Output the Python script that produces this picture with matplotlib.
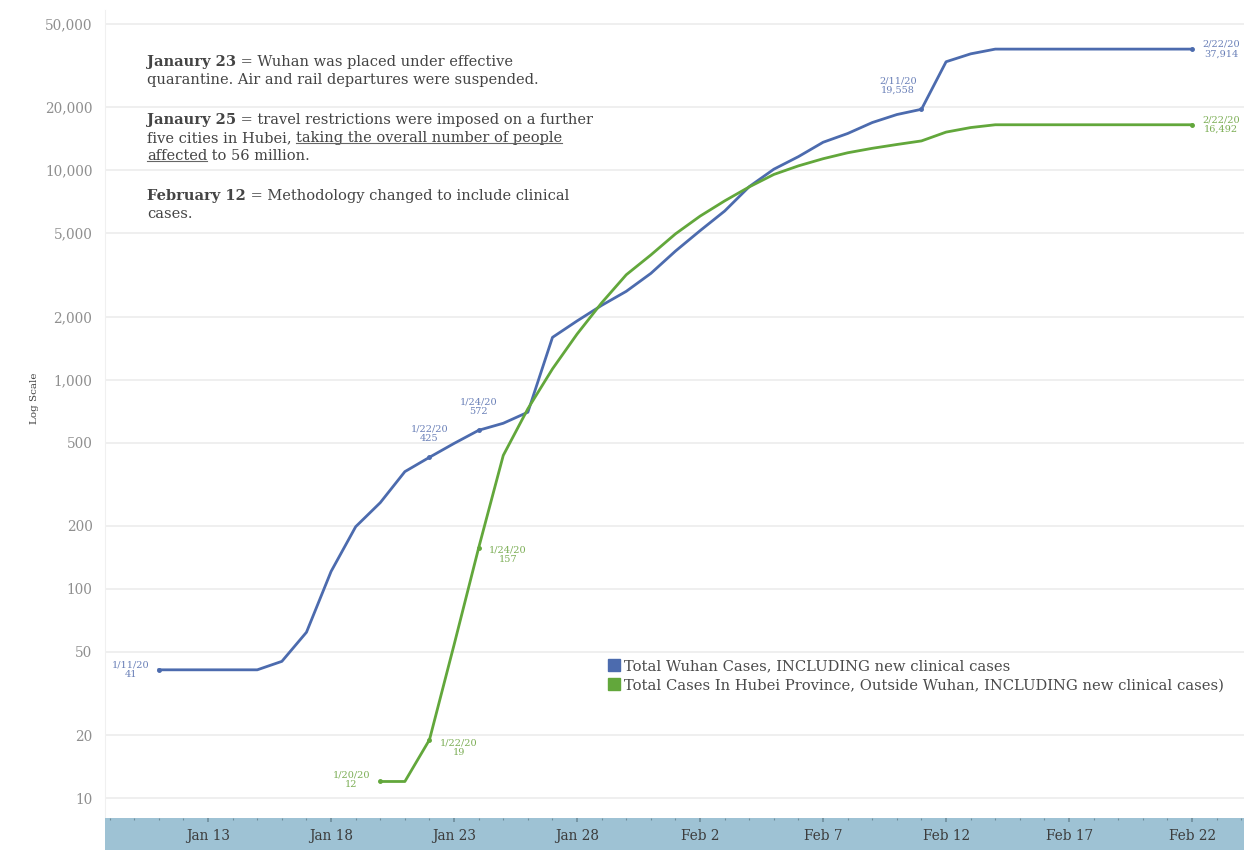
import pandas as pd
import matplotlib
matplotlib.use('Agg')
import matplotlib.pyplot as plt
from matplotlib.lines import Line2D

# Cumulative cases
wuhan_dates = pd.date_range('2020-01-11', '2020-02-22')
wuhan_cases = [41, 41, 41, 41, 41, 45, 62, 121, 198, 258, 363, 425, 495, 572,
               618, 698, 1590, 1905, 2261, 2639, 3215,
               4109, 5142, 6384, 8351, 10117, 11618, 13603, 14982, 16902,
               18454, 19558, 32994, 35991, 37914, 37914, 37914, 37914, 37914,
               37914, 37914, 37914, 37914]

hubei_dates = pd.date_range('2020-01-20', '2020-02-22')
hubei_cases = [12, 12, 19, 54, 157, 434, 725, 1124, 1649, 2325, 3167, 3938,
               4965, 6035, 7138, 8327, 9548, 10494, 11350, 12118, 12729,
               13274, 13808, 15212, 15995, 16492, 16492, 16492, 16492, 16492,
               16492, 16492, 16492, 16492]

# labelled points: (date, offset in points)
wuhan_marks = [('2020-01-11', (-20, 0)), ('2020-01-22', (0, 17)),
               ('2020-01-24', (0, 17)), ('2020-02-11', (-17, 17)),
               ('2020-02-22', (21, 0))]
hubei_marks = [('2020-01-20', (-21, 1)), ('2020-01-22', (21, -6)),
               ('2020-01-24', (21, -5)), ('2020-02-22', (21, 0))]

tick_dates = pd.date_range('2020-01-13', '2020-02-22', freq='5D')
tick_labels = ['Jan 13', 'Jan 18', 'Jan 23', 'Jan 28', 'Feb 2', 'Feb 7',
               'Feb 12', 'Feb 17', 'Feb 22']
y_ticks = [10, 20, 50, 100, 200, 500, 1000, 2000, 5000, 10000, 20000, 50000]

notes = [
    [('Janaury 23', 'bold', False), (' = Wuhan was placed under effective', 'normal', False)],
    [('quarantine. Air and rail departures were suspended.', 'normal', False)],
    None,
    [('Janaury 25', 'bold', False), (' = travel restrictions were imposed on a further', 'normal', False)],
    [('five cities in Hubei, ', 'normal', False), ('taking the overall number of people', 'normal', True)],
    [('affected', 'normal', True), (' to 56 million.', 'normal', False)],
    None,
    [('February 12', 'bold', False), (' = Methodology changed to include clinical', 'normal', False)],
    [('cases.', 'normal', False)],
]

blue = '#4c6bae'
green = '#62a73b'
blue_txt = '#6a80b8'
green_txt = '#7cae55'
serif = 'DejaVu Serif'
note_size = 10.5

W, H = 1244, 850
fig = plt.figure(figsize=(W / 100, H / 100), dpi=100)
ax = fig.add_axes([105 / W, 32 / H, 1 - 105 / W, 808 / H])
band = fig.add_axes([105 / W, 0, 1 - 105 / W, 32 / H], sharex=ax)

ax.plot(wuhan_dates, wuhan_cases, color=blue, lw=2.0, solid_joinstyle='round')
ax.plot(hubei_dates, hubei_cases, color=green, lw=2.0, solid_joinstyle='round')

wuhan_s = pd.Series(wuhan_cases, index=wuhan_dates)
hubei_s = pd.Series(hubei_cases, index=hubei_dates)
for series, marks, col, tcol in [(wuhan_s, wuhan_marks, blue, blue_txt),
                                 (hubei_s, hubei_marks, green, green_txt)]:
    for d, off in marks:
        d = pd.Timestamp(d)
        v = series[d]
        ax.plot([d], [v], 'o', color=col, ms=2.5)
        ax.annotate(f'{d.month}/{d.day}/20\n{v:,}', xy=(d, v), xytext=off,
                    textcoords='offset points', ha='center', va='center',
                    fontsize=7, color=tcol, family=serif, linespacing=1.1)

ax.set_yscale('log')
ax.set_ylim(8.03, 58300)
x0 = pd.Timestamp('2020-01-13')
ax.set_xlim(x0 - pd.Timedelta(days=4.19), x0 + pd.Timedelta(days=42.11))
ax.set_yticks(y_ticks)
ax.set_yticklabels([f'{v:,}' for v in y_ticks])
ax.minorticks_off()
ax.tick_params(axis='y', length=0, pad=9, labelsize=9.8, labelcolor='#8f8f8f')
for lab in ax.get_yticklabels():
    lab.set_family(serif)
ax.tick_params(axis='x', bottom=False, labelbottom=False)
ax.yaxis.grid(True, color='#ececec', lw=1.2)
ax.set_axisbelow(True)
for s in ax.spines.values():
    s.set_visible(False)
ax.spines['left'].set_visible(True)
ax.spines['left'].set_color('#f0f0f0')
ax.set_ylabel('Log Scale', family=serif, fontsize=7.5, color='#444444')
ax.yaxis.set_label_coords(-0.058, 0.52)

# date band at the bottom
band.set_facecolor('#9ec2d4')
for s in band.spines.values():
    s.set_visible(False)
band.set_yticks([])
band.set_xticks(tick_dates)
band.set_xticklabels(tick_labels)
band.set_xticks(pd.date_range('2020-01-09', '2020-02-24'), minor=True)
band.tick_params(axis='x', which='both', top=True, bottom=False, direction='in',
                 color='#6f8d9b', labelsize=9.8, labelcolor='#3c3c3c', pad=-15)
band.tick_params(axis='x', which='major', length=3, width=1.2)
band.tick_params(axis='x', which='minor', length=1.5, width=0.8)
for lab in band.get_xticklabels():
    lab.set_family(serif)

# legend
handles = [Line2D([], [], marker='s', ls='', color=blue, ms=8),
           Line2D([], [], marker='s', ls='', color=green, ms=8)]
leg = fig.legend(handles, ['Total Wuhan Cases, INCLUDING new clinical cases',
                           'Total Cases In Hubei Province, Outside Wuhan, INCLUDING new clinical cases)'],
                 loc='upper left', bbox_to_anchor=(592 / W, 1 - 646 / H), frameon=False,
                 handletextpad=0.1, labelspacing=0.35, handlelength=1.2,
                 prop={'family': serif, 'size': 10.6})
for t in leg.get_texts():
    t.set_color('#4a4a4a')

# notes block in the upper left
underlined = []
y = 62
for line in notes:
    if line is None:
        y += 22
        continue
    prev = None
    for text, weight, ul in line:
        if prev is None:
            t = fig.text(147 / W, 1 - y / H, text, fontsize=note_size, family=serif,
                         weight=weight, color='#444444', va='center', ha='left')
        else:
            t = ax.annotate(text, xy=(1, 0), xycoords=prev, va='bottom', ha='left',
                            fontsize=note_size, family=serif, weight=weight,
                            color='#444444', annotation_clip=False)
        prev = t
        if ul:
            underlined.append(t)
    y += 18

fig.canvas.draw()
for t in underlined:
    bb = t.get_window_extent()
    x_a = bb.x0 + (5 if t.get_text().startswith(' ') else 0)
    uy = bb.y0 + 2.5
    fig.add_artist(Line2D([x_a / W, bb.x1 / W], [uy / H, uy / H],
                          transform=fig.transFigure, color='#666666', lw=0.8))

fig.savefig('out.png', dpi=100)
